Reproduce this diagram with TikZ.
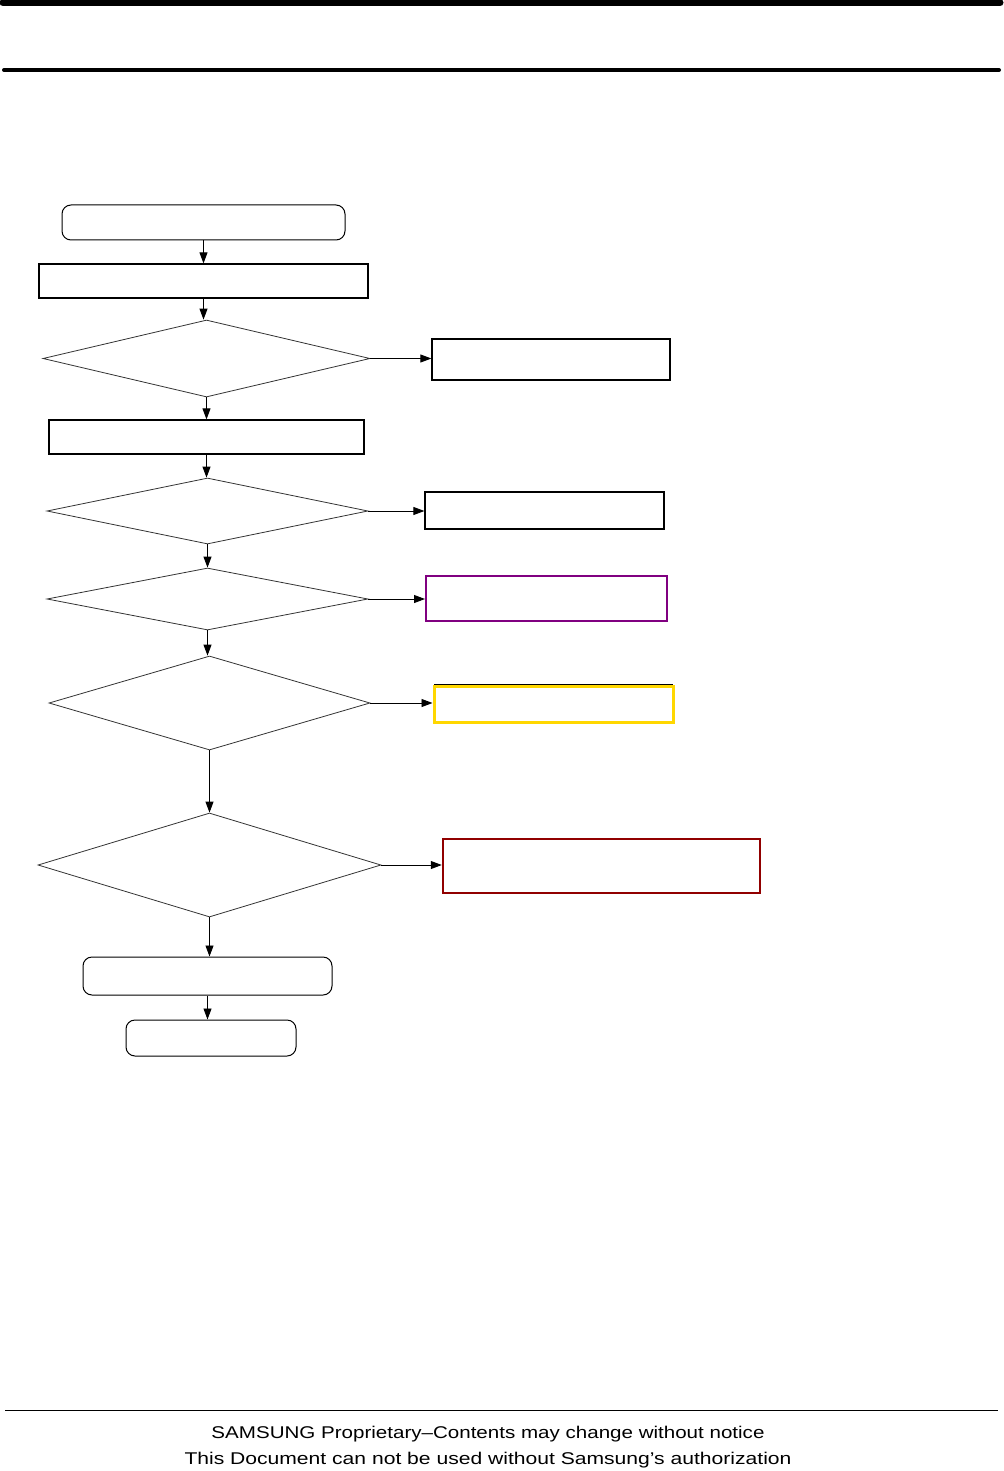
\documentclass[tikz,border=0pt]{standalone}
\usepackage{fontspec}
\setmainfont{Liberation Sans}
\usetikzlibrary{shapes.geometric,arrows.meta}
\begin{document}
\begin{tikzpicture}[x=1pt,y=-1pt,
  box/.style={draw=black,line width=1.2pt,inner sep=0pt,minimum width=#1},
  rbox/.style={draw=black,line width=1pt,rounded corners=9pt,inner sep=0pt},
  dec/.style={draw=black!80,line width=0.8pt,diamond,inner sep=0pt,shape aspect=3},
  arr/.style={line width=0.9pt,-{Triangle[length=11pt,width=8pt]}},
  rule/.style={line width=#1,line cap=round}]
\useasboundingbox (0,0) rectangle (1003,1471);
% header rules
\coordinate (h1a) at (3,3); \coordinate (h1b) at (1000,3);
\draw[rule=7pt] (h1a) -- (h1b);
\coordinate (h2a) at (4,70); \coordinate (h2b) at (999,70);
\draw[rule=4pt] (h2a) -- (h2b);
% flow
\node[rbox,minimum width=283pt,minimum height=35pt] (s1) at (203.5,222.5) {};
\node[box=329pt,minimum height=34pt] (r1) at (203.5,281) {};
\node[dec,minimum width=327pt,minimum height=77pt] (d1) at (206.5,358.5) {};
\node[box=238pt,minimum height=41pt] (o1) at (551,359.5) {};
\node[box=315pt,minimum height=34pt] (r2) at (206.5,437) {};
\node[dec,minimum width=321pt,minimum height=66pt] (d2) at (207.5,511) {};
\node[box=239pt,minimum height=37pt] (o2) at (544.5,510.5) {};
\node[dec,minimum width=321pt,minimum height=62pt] (d3) at (207.5,599) {};
\node[draw=violet!90!black,draw={rgb,255:red,128;green,0;blue,128},line width=2pt,inner sep=0pt,minimum width=241pt,minimum height=45pt] (o3) at (546.5,598.5) {};
\node[dec,minimum width=321pt,minimum height=94pt] (d4) at (209.5,703) {};
\node[draw={rgb,255:red,255;green,215;blue,0},line width=3pt,inner sep=0pt,minimum width=239pt,minimum height=36pt] (o4) at (553.5,704) {};
\coordinate (o4la) at (434,684); \coordinate (o4lb) at (673,684);
\draw[line width=0.8pt] (o4la) -- (o4lb);
\node[dec,minimum width=343pt,minimum height=104pt] (d5) at (209.5,865) {};
\node[draw={rgb,255:red,145;green,0;blue,0},line width=2.5pt,inner sep=0pt,minimum width=317pt,minimum height=54pt] (o5) at (601.5,866) {};
\node[rbox,minimum width=249pt,minimum height=38pt] (e1) at (207.5,976) {};
\node[rbox,minimum width=170pt,minimum height=36pt] (e2) at (211,1038) {};
% connectors
\draw[arr] (s1.south) -- (s1.south |- r1.north);
\draw[arr] (r1.south) -- (r1.south |- d1.north);
\draw[arr] (d1.south) -- (d1.south |- r2.north);
\draw[arr] (r2.south) -- (r2.south |- d2.north);
\draw[arr] (d2.south) -- (d2.south |- d3.north);
\draw[arr] (d3.south) -- (d3.south |- d4.north);
\draw[arr] (d4.south) -- (d4.south |- d5.north);
\draw[arr] (d5.south) -- (d5.south |- e1.north);
\draw[arr] (e1.south) -- (e1.south |- e2.north);
\draw[arr] (d1.east) -- (d1.east -| o1.west);
\draw[arr] (d2.east) -- (d2.east -| o2.west);
\draw[arr] (d3.east) -- (d3.east -| o3.west);
\draw[arr] (d4.east) -- (d4.east -| o4.west);
\draw[arr] (d5.east) -- (d5.east -| o5.west);
% footer
\coordinate (fa) at (5,1410); \coordinate (fb) at (998,1410);
\draw[line width=0.8pt] (fa) -- (fb);
\node[inner sep=0pt,font=\fontsize{17}{20}\selectfont] (f1) at (488,1434) {\resizebox{553pt}{\height}{SAMSUNG Proprietary–Contents may change without notice}};
\node[inner sep=0pt,font=\fontsize{17}{20}\selectfont] (f2) at (488,1460) {\resizebox{607pt}{\height}{This Document can not be used without Samsung's authorization}};
\end{tikzpicture}
\end{document}
